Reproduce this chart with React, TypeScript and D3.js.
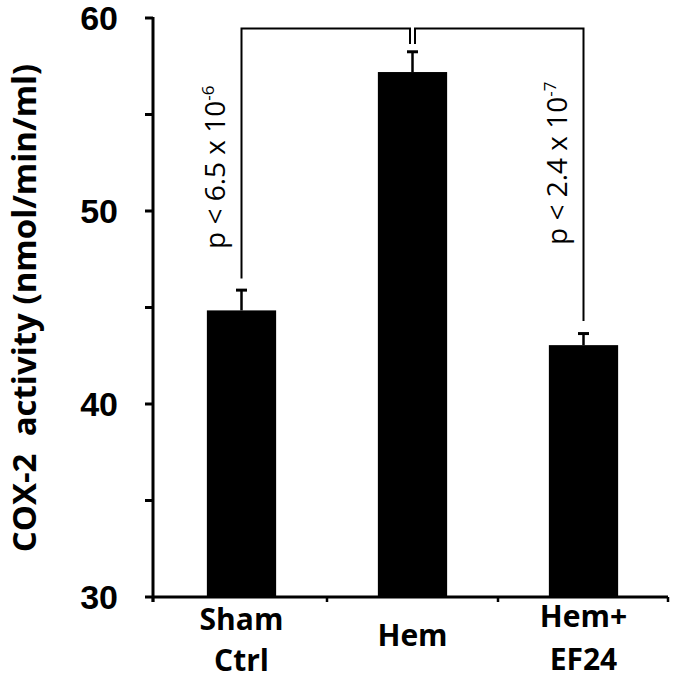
import * as d3 from 'd3';
import React, { useRef, useEffect } from 'react';

// values
const categories = ['Sham Ctrl', 'Hem', 'Hem+ EF24'];
const categoryLines = [['Sham', 'Ctrl'], ['Hem'], ['Hem+', 'EF24']];
const means = [44.85, 57.2, 43.05];
const errors = [1.05, 1.05, 0.6];
const yTicks = [30, 40, 50, 60];
const yMinorTicks = [35, 45, 55];

// significance brackets
const bracketTop = 59.45;
const bracketInner = 58.65;
const pLabels = [
  { from: 0, to: 1, text: 'p < 6.5 x 10', exp: '-6', legEnd: 46.5 },
  { from: 2, to: 1, text: 'p < 2.4 x 10', exp: '-7', legEnd: 44.3 },
];

function BarChart({ width, height }) {
  const ref = useRef(null);

  useEffect(() => {
    const svg = d3.select(ref.current);
    svg.selectAll('*').remove();

    const left = 153, right = 668, top = 18, bottom = 597;

    const y = d3.scaleLinear().domain([30, 60]).range([bottom, top]);
    const x = d3.scaleBand().domain(categories).range([left + 3, right + 1]).padding(0);
    const barW = x.bandwidth() * 0.405;
    const cx = (c) => x(c) + x.bandwidth() / 2;

    // bars
    svg.append('g')
      .selectAll('rect')
      .data(categories)
      .enter()
      .append('rect')
      .attr('x', (d) => cx(d) - barW / 2)
      .attr('y', (d, i) => y(means[i]))
      .attr('width', barW)
      .attr('height', (d, i) => bottom - y(means[i]))
      .attr('fill', '#000');

    // error bars (upper only)
    const eb = svg.append('g').attr('stroke', '#000');
    categories.forEach((c, i) => {
      eb.append('line')
        .attr('x1', cx(c)).attr('x2', cx(c))
        .attr('y1', y(means[i])).attr('y2', y(means[i] + errors[i]))
        .attr('stroke-width', 2.5);
      eb.append('line')
        .attr('x1', cx(c) - 5.5).attr('x2', cx(c) + 5.5)
        .attr('y1', y(means[i] + errors[i])).attr('y2', y(means[i] + errors[i]))
        .attr('stroke-width', 3);
    });

    // y axis
    const ya = svg.append('g').attr('stroke', '#000');
    ya.append('line')
      .attr('x1', left).attr('x2', left)
      .attr('y1', top - 1).attr('y2', bottom + 5)
      .attr('stroke-width', 3);
    [...yTicks, ...yMinorTicks].forEach((t) => {
      ya.append('line')
        .attr('x1', left - 8).attr('x2', left)
        .attr('y1', y(t)).attr('y2', y(t))
        .attr('stroke-width', 3);
    });
    svg.append('g')
      .selectAll('text')
      .data(yTicks)
      .enter()
      .append('text')
      .attr('x', left - 35)
      .attr('y', (d) => y(d))
      .attr('dy', '0.36em')
      .attr('text-anchor', 'end')
      .attr('font-family', 'Liberation Sans, Arial, sans-serif')
      .attr('font-weight', 'bold')
      .attr('font-size', 34)
      .text((d) => d);

    // x axis
    const xa = svg.append('g').attr('stroke', '#000');
    xa.append('line')
      .attr('x1', left).attr('x2', right)
      .attr('y1', bottom).attr('y2', bottom)
      .attr('stroke-width', 3);
    const xTickPos = [left, ...categories.slice(1).map((c) => x(c)), right];
    xTickPos.forEach((p) => {
      xa.append('line')
        .attr('x1', p).attr('x2', p)
        .attr('y1', bottom).attr('y2', bottom + 5)
        .attr('stroke-width', 2.5);
    });

    // category labels
    const labelBase = [[630, 671], [646], [627, 670]];
    categoryLines.forEach((lines, i) => {
      const t = svg.append('text')
        .attr('text-anchor', 'middle')
        .attr('font-family', 'Open Sans')
        .attr('font-weight', 'bold')
        .attr('font-size', 30);
      lines.forEach((l, j) => {
        t.append('tspan')
          .attr('x', cx(categories[i]))
          .attr('y', labelBase[i][j])
          .text(l);
      });
    });

    // y title
    svg.append('text')
      .attr('transform', `translate(36,308) rotate(-90)`)
      .attr('text-anchor', 'middle')
      .attr('font-family', 'Open Sans')
      .attr('font-weight', 'bold')
      .attr('font-size', 33)
      .style('white-space', 'pre')
      .text('COX-2  activity (nmol/min/ml)');

    // significance brackets
    const br = svg.append('g').attr('stroke', '#000').attr('stroke-width', 2).attr('fill', 'none');
    const labelStart = [249, 245];
    pLabels.forEach((p, k) => {
      const xo = cx(categories[p.from]);
      const xi = cx(categories[p.to]) + (p.from < p.to ? -2.5 : 2.5);
      const path = d3.path();
      path.moveTo(xo, y(p.legEnd));
      path.lineTo(xo, y(bracketTop));
      path.lineTo(xi, y(bracketTop));
      path.lineTo(xi, y(bracketInner));
      br.append('path').attr('d', path.toString());

      const t = svg.append('text')
        .attr('transform', `translate(${xo - 17},${labelStart[k]}) rotate(-90)`)
        .attr('font-family', 'Open Sans')
        .attr('font-size', 28);
      t.append('tspan').text(p.text);
      t.append('tspan')
        .attr('dy', -11)
        .attr('font-size', 17)
        .text(p.exp);
    });
  }, [width, height]);

  return (
    <svg ref={ref} width={width} height={height}
      style={{ position: 'absolute', left: 0, top: 0, background: '#fff' }} />
  );
}

export default function App() {
  return <BarChart width={675} height={680} />;
}
